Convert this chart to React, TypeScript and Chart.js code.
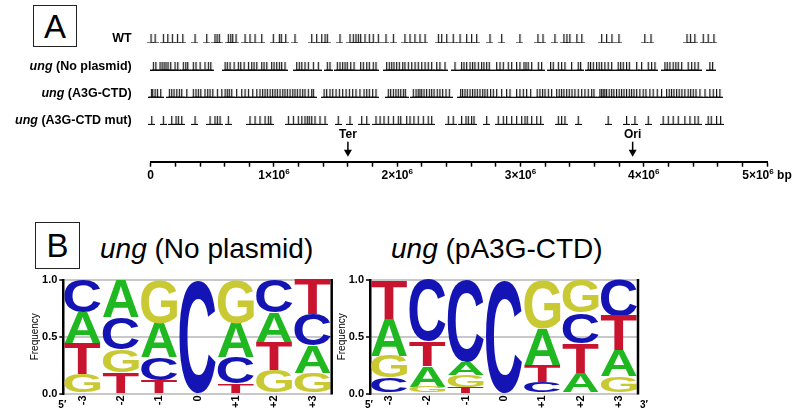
import React, { useEffect, useRef } from 'react';
import { Chart, registerables } from 'chart.js';

Chart.register(...registerables);

const FONT = '"Liberation Sans", Arial, Helvetica, sans-serif';

// ---------- Panel A : mutation positions (Mb) ----------
const rowPrefixes = ['', 'ung', 'ung', 'ung'];
const rowNames = ['WT', ' (No plasmid)', ' (A3G-CTD)', ' (A3G-CTD mut)'];
const rowLevels = [4, 3, 2, 1];

const wtMb = [0.002, 0.035, 0.102, 0.138, 0.175, 0.216, 0.26, 0.359, 0.454, 0.521, 0.538, 0.556, 0.629, 0.649, 0.665, 0.692, 0.765, 0.805, 0.846, 0.9, 0.994, 1.043, 1.059, 1.095, 1.17, 1.306, 1.346, 1.387, 1.414, 1.432, 1.535, 1.616, 1.643, 1.665, 1.684, 1.703, 1.738, 1.773, 1.805, 1.846, 1.908, 1.968, 2.062, 2.103, 2.143, 2.184, 2.225, 2.333, 2.36, 2.401, 2.454, 2.509, 2.563, 2.603, 2.644, 2.752, 2.847, 2.995, 3.141, 3.182, 3.279, 3.352, 3.376, 3.4, 3.457, 3.497, 3.658, 3.698, 3.741, 3.798, 4.008, 4.058, 4.35, 4.378, 4.414, 4.482, 4.522, 4.569];

const noPlasmidMb = [0.021, 0.041, 0.075, 0.092, 0.108, 0.124, 0.14, 0.162, 0.197, 0.219, 0.264, 0.284, 0.3, 0.345, 0.367, 0.4, 0.44, 0.467, 0.487, 0.603, 0.621, 0.643, 0.676, 0.71, 0.73, 0.757, 0.792, 0.819, 0.838, 0.86, 0.9, 0.919, 0.941, 0.981, 1.0, 1.022, 1.043, 1.062, 1.089, 1.184, 1.205, 1.225, 1.251, 1.278, 1.319, 1.359, 1.432, 1.454, 1.513, 1.535, 1.557, 1.576, 1.594, 1.622, 1.649, 1.703, 1.724, 1.752, 1.773, 1.805, 1.827, 1.914, 1.935, 1.955, 1.973, 1.995, 2.016, 2.044, 2.062, 2.089, 2.117, 2.144, 2.17, 2.198, 2.225, 2.251, 2.279, 2.32, 2.346, 2.387, 2.468, 2.522, 2.541, 2.563, 2.59, 2.611, 2.63, 2.657, 2.684, 2.703, 2.725, 2.746, 2.806, 2.833, 2.86, 2.9, 2.928, 2.968, 2.995, 3.028, 3.044, 3.062, 3.09, 3.144, 3.171, 3.244, 3.265, 3.306, 3.333, 3.36, 3.414, 3.468, 3.487, 3.549, 3.568, 3.59, 3.617, 3.638, 3.658, 3.684, 3.711, 3.739, 3.792, 3.812, 3.833, 3.86, 3.882, 3.942, 3.982, 4.036, 4.063, 4.09, 4.171, 4.19, 4.212, 4.238, 4.26, 4.279, 4.307, 4.36, 4.388, 4.414, 4.441, 4.536, 4.558];

const a3gCtdMb = [0.005, 0.016, 0.035, 0.054, 0.081, 0.151, 0.17, 0.189, 0.211, 0.232, 0.251, 0.292, 0.345, 0.367, 0.386, 0.406, 0.44, 0.462, 0.481, 0.503, 0.54, 0.576, 0.603, 0.621, 0.637, 0.657, 0.697, 0.738, 0.765, 0.792, 0.827, 0.86, 0.886, 0.908, 0.927, 0.946, 0.968, 0.989, 1.008, 1.027, 1.049, 1.071, 1.089, 1.108, 1.13, 1.152, 1.17, 1.189, 1.211, 1.233, 1.251, 1.278, 1.306, 1.319, 1.406, 1.427, 1.454, 1.476, 1.503, 1.53, 1.557, 1.584, 1.611, 1.638, 1.665, 1.697, 1.73, 1.752, 1.773, 1.8, 1.827, 1.927, 1.946, 1.968, 1.989, 2.008, 2.028, 2.049, 2.065, 2.13, 2.152, 2.17, 2.184, 2.198, 2.217, 2.238, 2.26, 2.279, 2.298, 2.324, 2.346, 2.368, 2.395, 2.422, 2.514, 2.53, 2.549, 2.568, 2.59, 2.611, 2.63, 2.649, 2.671, 2.693, 2.711, 2.73, 2.757, 2.779, 2.806, 2.847, 2.887, 2.914, 2.968, 2.995, 3.022, 3.049, 3.082, 3.135, 3.157, 3.179, 3.198, 3.225, 3.252, 3.293, 3.314, 3.333, 3.352, 3.374, 3.395, 3.417, 3.441, 3.468, 3.496, 3.522, 3.549, 3.577, 3.595, 3.644, 3.658, 3.671, 3.684, 3.698, 3.719, 3.739, 3.757, 3.779, 3.8, 3.82, 3.839, 3.86, 3.882, 3.901, 3.92, 3.942, 3.968, 3.995, 4.017, 4.049, 4.076, 4.109, 4.144, 4.185, 4.206, 4.225, 4.244, 4.266, 4.287, 4.309, 4.333, 4.36, 4.38, 4.401, 4.423, 4.455, 4.496, 4.536, 4.563, 4.59, 4.617];

const a3gCtdMutMb = [0.008, 0.102, 0.17, 0.205, 0.224, 0.251, 0.359, 0.481, 0.521, 0.54, 0.562, 0.629, 0.805, 0.846, 0.886, 0.927, 0.954, 0.973, 1.116, 1.157, 1.197, 1.225, 1.251, 1.27, 1.286, 1.306, 1.332, 1.373, 1.414, 1.521, 1.616, 1.711, 1.752, 1.827, 1.86, 1.892, 1.927, 1.968, 2.008, 2.028, 2.076, 2.103, 2.135, 2.17, 2.211, 2.251, 2.279, 2.414, 2.454, 2.522, 2.557, 2.576, 2.603, 2.622, 2.725, 2.819, 2.86, 2.887, 2.928, 2.968, 3.009, 3.036, 3.054, 3.09, 3.131, 3.163, 3.306, 3.333, 3.36, 3.468, 3.711, 3.86, 3.928, 4.036, 4.157, 4.198, 4.238, 4.279, 4.333, 4.374, 4.414, 4.441, 4.522, 4.547, 4.59, 4.623];

// tick label pieces: mantissa, exponent, unit
const genomeTickValues = [0, 1, 2, 3, 4, 5];
const genomeTickBase = ['0', '1×10', '2×10', '3×10', '4×10', '5×10'];
const genomeTickExp = ['', '6', '6', '6', '6', '6'];
const genomeTickUnit = ['', '', '', '', '', ' bp'];
const markerNames = ['Ter', 'Ori'];
const markerMb = [1.6, 3.91];

// ---------- Panel B : sequence logos ----------
const logoPositions = ['-3', '-2', '-1', '0', '+1', '+2', '+3'];
const baseLetters = ['A', 'C', 'G', 'T'];
const baseColors = ['#20b820', '#1414b4', '#c9c934', '#c8142e'];

const noPlasmidA = [0.275, 0.33, 0.3, 0, 0.3, 0.255, 0.24];
const noPlasmidC = [0.285, 0.28, 0.2, 1, 0.23, 0.29, 0.28];
const noPlasmidG = [0.17, 0.2, 0.38, 0, 0.38, 0.21, 0.18];
const noPlasmidT = [0.27, 0.19, 0.12, 0, 0.09, 0.245, 0.3];

const pA3gA = [0.33, 0.18, 0.115, 0, 0.32, 0.18, 0.23];
const pA3gC = [0.14, 0.54, 0.72, 1, 0.1, 0.27, 0.32];
const pA3gG = [0.19, 0.06, 0.105, 0, 0.43, 0.29, 0.15];
const pA3gT = [0.34, 0.22, 0.06, 0, 0.15, 0.26, 0.3];

function buildLogoDatasets(freqs: number[][]) {
  const ranges = baseLetters.map(() => logoPositions.map(() => [0, 0]));
  logoPositions.forEach((_, j) => {
    const order = baseLetters.map((_, b) => b).sort((a, b) => freqs[a][j] - freqs[b][j]);
    let acc = 0;
    order.forEach((b) => {
      ranges[b][j] = [acc, acc + freqs[b][j]];
      acc += freqs[b][j];
    });
  });
  return baseLetters.map((name, b) => ({
    label: name,
    data: ranges[b],
    backgroundColor: 'rgba(0,0,0,0)',
    borderWidth: 0,
    grouped: false,
    barPercentage: 0.94,
    categoryPercentage: 1,
    letterColor: baseColors[b],
  }));
}

function drawGlyph(ctx: CanvasRenderingContext2D, letter: string, color: string, x: number, y: number, w: number, h: number) {
  ctx.save();
  ctx.font = `bold 200px ${FONT}`;
  ctx.textAlign = 'left';
  ctx.textBaseline = 'alphabetic';
  const m = ctx.measureText(letter);
  const l = m.actualBoundingBoxLeft;
  const a = m.actualBoundingBoxAscent;
  const gw = m.actualBoundingBoxLeft + m.actualBoundingBoxRight;
  const gh = m.actualBoundingBoxAscent + m.actualBoundingBoxDescent;
  ctx.translate(x, y);
  ctx.scale(w / gw, h / gh);
  ctx.fillStyle = color;
  ctx.fillText(letter, l, a);
  ctx.restore();
}

const logoLetterPlugin = {
  id: 'logoLetters',
  afterDatasetsDraw(chart: any) {
    const ctx = chart.ctx;
    chart.data.datasets.forEach((ds: any, i: number) => {
      const meta = chart.getDatasetMeta(i);
      meta.data.forEach((el: any) => {
        const p = el.getProps(['x', 'y', 'base', 'width'], true);
        const top = Math.min(p.y, p.base);
        const h = Math.abs(p.base - p.y);
        if (h < 0.5) return;
        drawGlyph(ctx, ds.label, ds.letterColor, p.x - p.width / 2, top, p.width, h);
      });
    });
  },
};

const logoFramePlugin = {
  id: 'logoFrame',
  afterDraw(chart: any, _args: any, opts: any) {
    const { ctx, chartArea: ca } = chart;
    ctx.save();
    ctx.strokeStyle = '#000';
    ctx.lineWidth = 2.5;
    ctx.beginPath();
    ctx.moveTo(ca.right, ca.top - 1);
    ctx.lineTo(ca.right, ca.bottom + 1);
    ctx.stroke();
    ctx.fillStyle = '#000';
    ctx.font = `bold 10px ${FONT}`;
    ctx.textAlign = 'center';
    ctx.textBaseline = 'middle';
    if (opts.five) ctx.fillText('5′', ca.left - 1, ca.bottom + 12);
    if (opts.three) ctx.fillText('3′', ca.right + 6, ca.bottom + 12);
    ctx.restore();
  },
};

const genomeAnnotPlugin = {
  id: 'genomeAnnot',
  afterDraw(chart: any) {
    const { ctx, chartArea: ca } = chart;
    const xs = chart.scales.x;
    const ys = chart.scales.y;
    ctx.save();
    ctx.fillStyle = '#000';
    ctx.textBaseline = 'middle';
    // row labels
    const right = ca.left - 19;
    rowNames.forEach((name, i) => {
      const y = ys.getPixelForValue(rowLevels[i]);
      ctx.font = `bold 12.5px ${FONT}`;
      ctx.textAlign = 'right';
      ctx.fillText(name, right, y);
      const w = ctx.measureText(name).width;
      if (rowPrefixes[i]) {
        ctx.font = `italic bold 12.5px ${FONT}`;
        ctx.fillText(rowPrefixes[i], right - w, y);
      }
    });
    // Ter / Ori markers
    markerNames.forEach((name, i) => {
      const x = xs.getPixelForValue(markerMb[i]);
      ctx.font = `bold 12px ${FONT}`;
      ctx.textAlign = 'center';
      ctx.fillText(name, x, ca.bottom - 27);
      ctx.fillRect(x - 0.75, ca.bottom - 20, 1.5, 9);
      ctx.beginPath();
      ctx.moveTo(x - 4, ca.bottom - 12);
      ctx.lineTo(x + 4, ca.bottom - 12);
      ctx.lineTo(x, ca.bottom - 5);
      ctx.closePath();
      ctx.fill();
    });
    // axis tick labels with superscript exponent
    ctx.textAlign = 'left';
    ctx.textBaseline = 'alphabetic';
    const baseY = ca.bottom + 17;
    genomeTickValues.forEach((v, i) => {
      const x = xs.getPixelForValue(v);
      ctx.font = `bold 12px ${FONT}`;
      const wBase = ctx.measureText(genomeTickBase[i]).width;
      const wUnit = ctx.measureText(genomeTickUnit[i]).width;
      ctx.font = `bold 8px ${FONT}`;
      const wExp = ctx.measureText(genomeTickExp[i]).width;
      let cx = x - (wBase + wExp + wUnit) / 2;
      ctx.font = `bold 12px ${FONT}`;
      ctx.fillText(genomeTickBase[i], cx, baseY);
      cx += wBase;
      ctx.font = `bold 8px ${FONT}`;
      ctx.fillText(genomeTickExp[i], cx, baseY - 5);
      cx += wExp;
      ctx.font = `bold 12px ${FONT}`;
      ctx.fillText(genomeTickUnit[i], cx, baseY);
    });
    ctx.restore();
  },
};

function makeTickImage() {
  const c = document.createElement('canvas');
  c.width = 7;
  c.height = 9;
  const g = c.getContext('2d')!;
  g.fillStyle = '#111';
  g.fillRect(3, 0, 1.2, 9);
  g.fillRect(0, 8, 7, 1);
  return c;
}

function logoOptions(padLeft: number, padRight: number, five: boolean, three: boolean) {
  return {
    animation: false,
    responsive: false,
    devicePixelRatio: 1,
    events: [],
    layout: { padding: { left: padLeft, right: padRight, top: 10, bottom: 0 } },
    plugins: {
      legend: { display: false },
      tooltip: { enabled: false },
      logoFrame: { five, three },
    },
    scales: {
      x: {
        type: 'category',
        offset: true,
        afterFit: (s: any) => {
          s.height = 16.5;
        },
        grid: { display: false, drawTicks: false, tickLength: 0 },
        border: { display: false },
        ticks: {
          minRotation: 90,
          maxRotation: 90,
          padding: 2,
          autoSkip: false,
          color: '#000',
          font: { family: FONT, size: 11, weight: 'bold' },
        },
      },
      y: {
        min: 0,
        max: 1,
        afterFit: (s: any) => {
          s.width = 36;
        },
        ticks: {
          stepSize: 0.5,
          padding: 2,
          color: '#000',
          font: { family: FONT, size: 11, weight: 'bold' },
          callback: (v: any) => Number(v).toFixed(1),
        },
        grid: { color: '#c8c8c8', lineWidth: 2, tickColor: '#000', tickLength: 4, tickWidth: 1.5 },
        border: { display: true, color: '#000', width: 2.5 },
        title: {
          display: true,
          text: 'Frequency',
          color: '#000',
          font: { family: FONT, size: 10 },
          padding: { top: 2, bottom: 2 },
        },
      },
    },
  };
}

export default function App() {
  const aRef = useRef<HTMLCanvasElement>(null);
  const b1Ref = useRef<HTMLCanvasElement>(null);
  const b2Ref = useRef<HTMLCanvasElement>(null);

  useEffect(() => {
    Chart.defaults.font.family = FONT;
    Chart.defaults.color = '#000';
    const tickImg = makeTickImage();
    const rowSeries = [wtMb, noPlasmidMb, a3gCtdMb, a3gCtdMutMb];

    const chartA = new Chart(aRef.current!, {
      type: 'scatter',
      data: {
        datasets: rowSeries.map((arr, i) => ({
          label: rowNames[i],
          data: arr.map((v) => ({ x: v, y: rowLevels[i] })),
          pointStyle: tickImg,
          pointRadius: 3,
          clip: false,
        })),
      },
      options: {
        animation: false,
        responsive: false,
        devicePixelRatio: 1,
        events: [],
        layout: { padding: { left: 150.7, right: 40, top: 0, bottom: 0 } },
        plugins: { legend: { display: false }, tooltip: { enabled: false } },
        scales: {
          x: {
            type: 'linear',
            min: 0,
            max: 5,
            afterFit: (s: any) => {
              s.height = 23.3;
            },
            border: { display: true, color: '#000', width: 2 },
            grid: { drawOnChartArea: false, drawTicks: true, tickLength: 5, tickColor: '#000', tickWidth: 1.5 },
            ticks: {
              stepSize: 0.2,
              autoSkip: false,
              maxRotation: 0,
              minRotation: 0,
              padding: 1,
              color: '#000',
              font: { family: FONT, size: 12, weight: 'bold' },
              callback: () => '',
            },
          },
          y: { type: 'linear', min: -0.525, max: 5.25, display: false },
        },
      } as any,
      plugins: [genomeAnnotPlugin],
    });

    const chartB1 = new Chart(b1Ref.current!, {
      type: 'bar',
      data: {
        labels: logoPositions,
        datasets: buildLogoDatasets([noPlasmidA, noPlasmidC, noPlasmidG, noPlasmidT]) as any,
      },
      options: logoOptions(27.3, 13.3, true, false) as any,
      plugins: [logoLetterPlugin, logoFramePlugin],
    });

    const chartB2 = new Chart(b2Ref.current!, {
      type: 'bar',
      data: {
        labels: logoPositions,
        datasets: buildLogoDatasets([pA3gA, pA3gC, pA3gG, pA3gT]) as any,
      },
      options: logoOptions(14, 169, true, true) as any,
      plugins: [logoLetterPlugin, logoFramePlugin],
    });

    return () => {
      chartA.destroy();
      chartB1.destroy();
      chartB2.destroy();
    };
  }, []);

  const boxStyle: React.CSSProperties = {
    position: 'absolute',
    border: '1px solid #222',
    boxSizing: 'border-box',
    display: 'flex',
    alignItems: 'center',
    justifyContent: 'center',
    fontSize: 33,
    lineHeight: 1,
    color: '#000',
  };
  const titleStyle: React.CSSProperties = {
    position: 'absolute',
    top: 233,
    fontSize: 28,
    lineHeight: '32px',
    whiteSpace: 'nowrap',
    color: '#000',
  };

  return (
    <div
      style={{
        position: 'fixed',
        left: 0,
        top: 0,
        width: 807,
        height: 410,
        background: '#fff',
        overflow: 'hidden',
        fontFamily: FONT,
      }}
    >
      <div style={{ ...boxStyle, left: 33, top: 5, width: 44, height: 42 }}>A</div>
      <canvas ref={aRef} width={807} height={185} style={{ position: 'absolute', left: 0, top: 0, width: 807, height: 185 }} />
      <div style={{ ...boxStyle, left: 35, top: 222, width: 45, height: 47 }}>B</div>
      <div style={{ ...titleStyle, left: 100 }}>
        <i>ung</i> (No plasmid)
      </div>
      <div style={{ ...titleStyle, left: 391 }}>
        <i>ung</i> (pA3G-CTD)
      </div>
      <canvas ref={b1Ref} width={345} height={140} style={{ position: 'absolute', left: 0, top: 270, width: 345, height: 140 }} />
      <canvas ref={b2Ref} width={487} height={140} style={{ position: 'absolute', left: 320, top: 270, width: 487, height: 140 }} />
    </div>
  );
}
